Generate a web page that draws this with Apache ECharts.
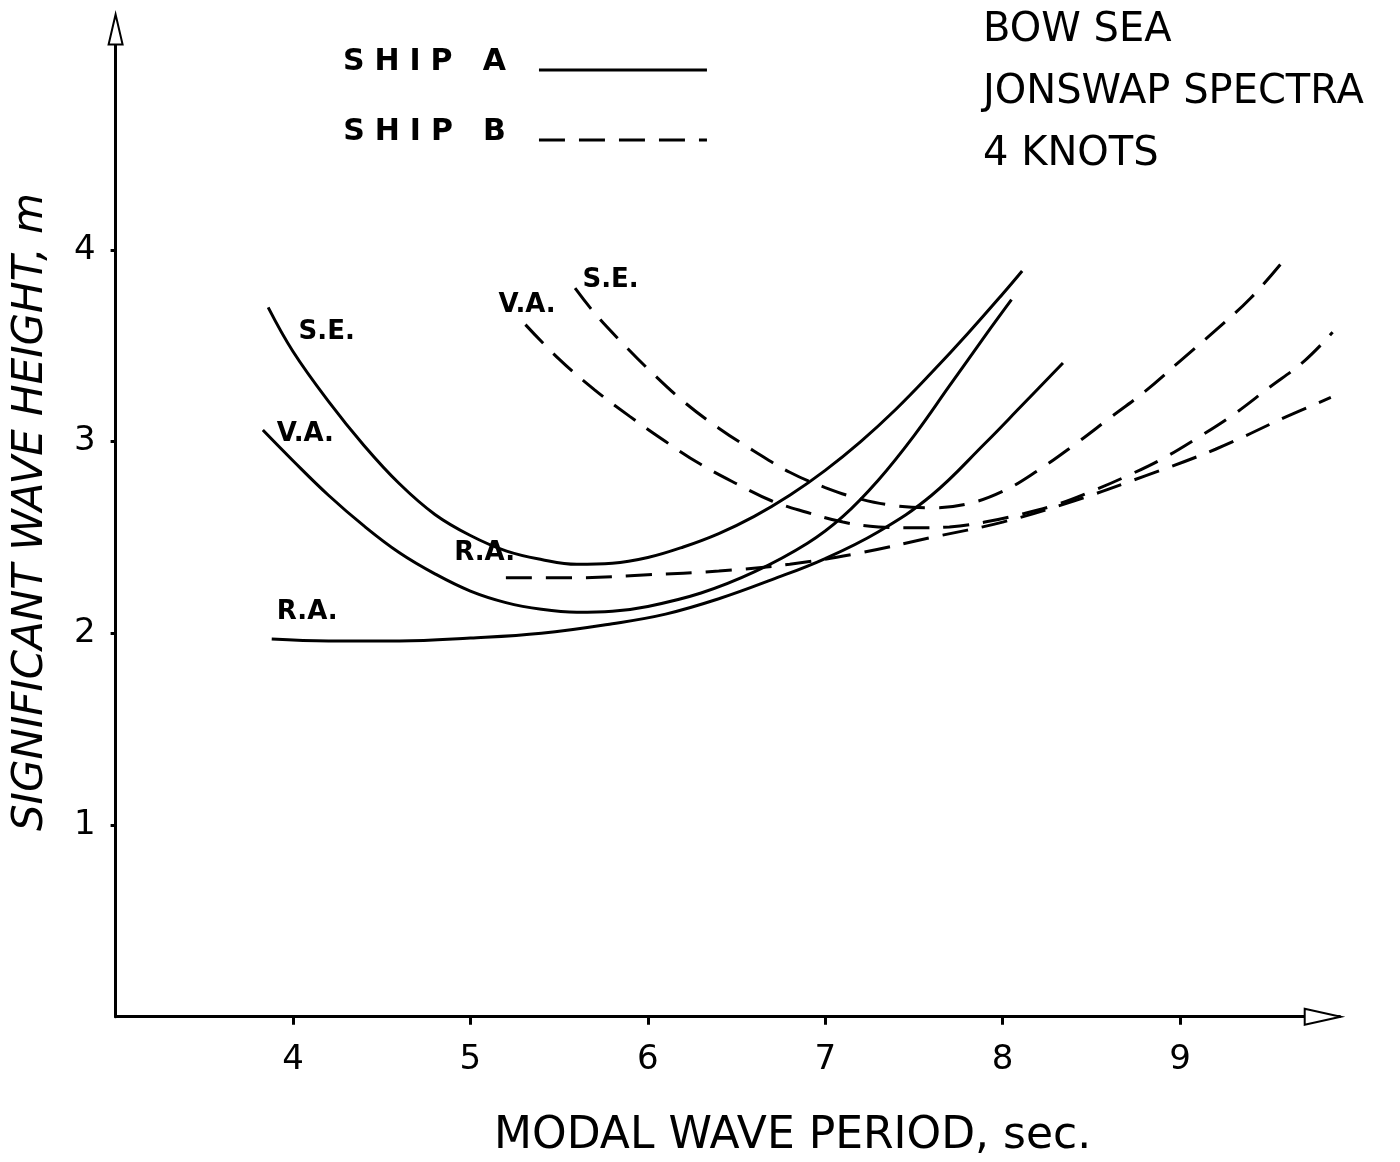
<!DOCTYPE html>
<html>
<head>
<meta charset="utf-8">
<title>Significant wave height vs modal wave period</title>
<script src="https://cdn.jsdelivr.net/npm/echarts@6/dist/echarts.min.js"></script>
<style>
  html, body { margin: 0; padding: 0; background: #fff; }
  #main { width: 1400px; height: 1162px; }
</style>
</head>
<body>
<div id="main"></div>
<script>
// [modal wave period (sec), significant wave height (m)]
var shipA_SE = [[3.86,3.70],[4.0,3.47],[4.2,3.21],[4.4,2.98],[4.6,2.78],[4.8,2.62],[5.0,2.51],[5.2,2.43],[5.4,2.385],[5.6,2.36],[5.8,2.365],[6.0,2.395],[6.2,2.45],[6.4,2.52],[6.6,2.61],[6.8,2.72],[7.0,2.85],[7.2,3.00],[7.4,3.17],[7.6,3.36],[7.8,3.56],[8.0,3.77],[8.11,3.89]];
var shipA_VA = [[3.83,3.06],[4.0,2.90],[4.2,2.72],[4.4,2.56],[4.6,2.42],[4.8,2.31],[5.0,2.22],[5.2,2.16],[5.4,2.125],[5.6,2.11],[5.8,2.115],[6.0,2.14],[6.3,2.21],[6.6,2.32],[6.9,2.47],[7.1,2.61],[7.3,2.80],[7.5,3.03],[7.7,3.29],[7.9,3.55],[8.05,3.74]];
var shipA_RA = [[3.88,1.97],[4.2,1.96],[4.6,1.96],[5.0,1.975],[5.4,2.00],[5.8,2.05],[6.1,2.10],[6.4,2.18],[6.7,2.28],[7.0,2.39],[7.3,2.53],[7.6,2.72],[7.9,2.99],[8.1,3.18],[8.34,3.41]];

var shipB_SE = [[5.59,3.80],[5.7,3.67],[5.85,3.52],[6.0,3.38],[6.2,3.21],[6.4,3.07],[6.6,2.95],[6.8,2.84],[7.0,2.76],[7.2,2.70],[7.4,2.665],[7.6,2.655],[7.8,2.675],[8.0,2.74],[8.2,2.85],[8.4,2.98],[8.6,3.12],[8.8,3.26],[9.0,3.42],[9.2,3.58],[9.4,3.75],[9.58,3.94]];
var shipB_VA = [[5.31,3.61],[5.5,3.43],[5.7,3.27],[5.9,3.13],[6.1,3.00],[6.3,2.88],[6.5,2.78],[6.7,2.69],[6.9,2.63],[7.1,2.58],[7.3,2.555],[7.5,2.55],[7.7,2.555],[7.9,2.58],[8.1,2.62],[8.3,2.67],[8.5,2.74],[8.7,2.82],[8.9,2.91],[9.1,3.02],[9.3,3.14],[9.5,3.28],[9.7,3.42],[9.86,3.57]];
var shipB_RA = [[5.20,2.29],[5.6,2.29],[6.0,2.305],[6.4,2.325],[6.8,2.36],[7.2,2.42],[7.6,2.50],[8.0,2.58],[8.4,2.69],[8.8,2.82],[9.2,2.96],[9.6,3.13],[9.85,3.23]];

// curve names written next to the curves: [text, period, height]
var curveLabels = [
  ['S.E.', 4.19, 3.57], ['V.A.', 4.07, 3.04], ['R.A.', 4.08, 2.11],
  ['R.A.', 5.08, 2.42], ['V.A.', 5.32, 3.71], ['S.E.', 5.79, 3.84]
];

var xTicks = [4, 5, 6, 7, 8, 9];
var yTicks = [1, 2, 3, 4];
var notes = ['BOW SEA', 'JONSWAP SPECTRA', '4 KNOTS'];

var FONT = 'DejaVu Sans';

function curve(name, data, dashed) {
  return {
    type: 'line', name: name, data: data, smooth: 0.4, symbol: 'none',
    lineStyle: { color: '#000', width: 3, type: dashed ? [26, 14] : 'solid' },
    itemStyle: { color: '#000' }
  };
}

var chart = echarts.init(document.getElementById('main'));
chart.setOption({
  animation: false,
  backgroundColor: '#fff',
  textStyle: { fontFamily: FONT, color: '#000' },
  title: {
    text: notes.join('\n'), left: 983, top: 0, padding: 0,
    textStyle: { fontFamily: FONT, fontSize: 40, fontWeight: 'normal', lineHeight: 62, color: '#000' }
  },
  legend: {
    data: ['SHIP A', 'SHIP B'], orient: 'vertical', left: 338, top: 42,
    align: 'right', itemWidth: 168, itemHeight: 14, itemGap: 40, selectedMode: false,
    itemStyle: { color: 'rgba(0,0,0,0)', borderWidth: 0, opacity: 0 },
    lineStyle: { width: 3 },
    formatter: function (n) { return '{t|' + n.split('').join('\u2004') + '}'; },
    textStyle: {
      fontFamily: FONT, color: '#000',
      rich: { t: { fontFamily: FONT, fontSize: 30, fontWeight: 'bold', color: '#000', padding: [0, 28, 16, 0] } }
    }
  },
  grid: { left: 115.6, right: 60.3, top: 29.4, bottom: 145.3, outerBoundsMode: 'none' },
  xAxis: {
    type: 'value', min: 3, max: 9.9, interval: 1,
    name: 'MODAL WAVE PERIOD, sec.', nameLocation: 'middle', nameGap: 98,
    nameTextStyle: { fontFamily: FONT, fontSize: 44, color: '#000', padding: [0, 0, 0, 130] },
    axisLine: { onZero: false, lineStyle: { color: '#000', width: 3 },
      symbol: ['none', 'emptyTriangle'], symbolSize: [16, 36], symbolOffset: [0, -17] },
    axisTick: { customValues: xTicks, length: 8, lineStyle: { color: '#000', width: 3 } },
    axisLabel: { customValues: xTicks, margin: 26, fontSize: 34, color: '#000' },
    splitLine: { show: false }
  },
  yAxis: {
    type: 'value', min: 0, max: 5.15, interval: 1,
    name: 'SIGNIFICANT WAVE HEIGHT, m', nameLocation: 'middle', nameGap: 64, nameRotate: 90,
    nameTextStyle: { fontFamily: FONT, fontSize: 42, fontStyle: 'italic', color: '#000', padding: [0, 0, 0, 22] },
    axisLine: { onZero: false, lineStyle: { color: '#000', width: 3 },
      symbol: ['none', 'emptyTriangle'], symbolSize: [14, 30] },
    axisTick: { customValues: yTicks, length: 5, lineStyle: { color: '#000', width: 3 } },
    axisLabel: { customValues: yTicks, margin: 20, fontSize: 34, color: '#000' },
    splitLine: { show: false }
  },
  series: [
    curve('SHIP A', shipA_SE, false),
    curve('SHIP A', shipA_VA, false),
    curve('SHIP A', shipA_RA, false),
    curve('SHIP B', shipB_SE, true),
    curve('SHIP B', shipB_VA, true),
    curve('SHIP B', shipB_RA, true),
    {
      type: 'scatter', name: 'labels', silent: true, symbolSize: 1,
      itemStyle: { color: 'rgba(0,0,0,0)' },
      data: curveLabels.map(function (l) { return { name: l[0], value: [l[1], l[2]] }; }),
      label: { show: true, position: 'inside', formatter: '{b}', fontFamily: FONT,
        fontSize: 26, fontWeight: 'bold', color: '#000', opacity: 1 }
    }
  ]
});
</script>
</body>
</html>
